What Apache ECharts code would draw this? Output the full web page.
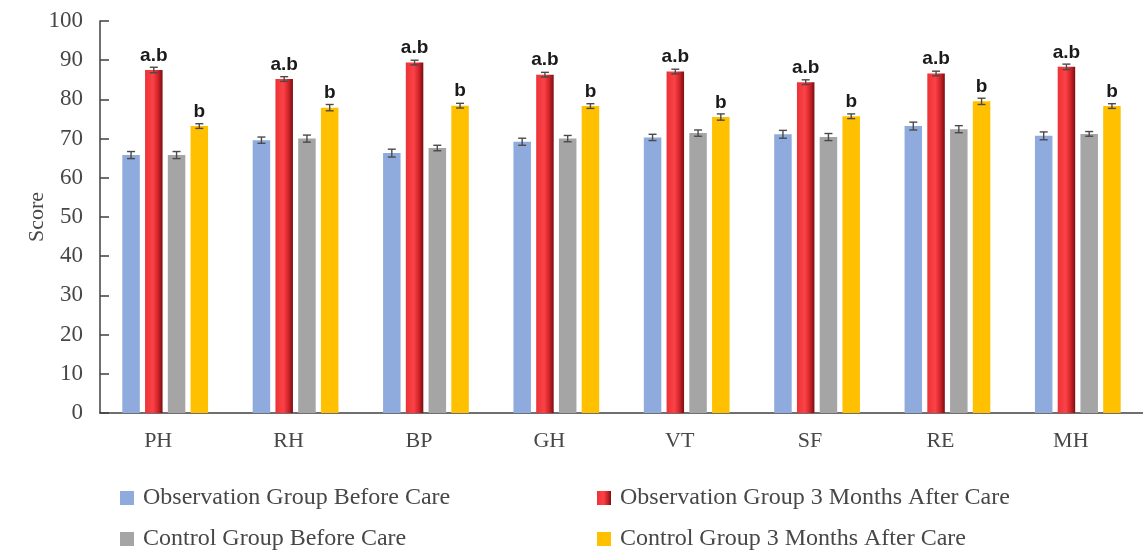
<!DOCTYPE html>
<html>
<head>
<meta charset="utf-8">
<script src="https://cdn.jsdelivr.net/npm/echarts@6/dist/echarts.min.js"></script>
<style>
  html, body { margin: 0; padding: 0; background: #ffffff; }
  #chart { width: 1143px; height: 550px; }
</style>
</head>
<body>
<div id="chart"></div>
<script>
// SF-36 dimension scores (mean ± error) per group
const categories = ['PH', 'RH', 'BP', 'GH', 'VT', 'SF', 'RE', 'MH'];

const seriesNames = [
  'Observation Group Before Care',
  'Observation Group 3 Months After Care',
  'Control Group Before Care',
  'Control Group 3 Months After Care'
];

const obsBefore  = [65.8, 69.6, 66.3, 69.2, 70.3, 71.1, 73.2, 70.7];
const obsAfter   = [87.5, 85.2, 89.4, 86.3, 87.1, 84.4, 86.6, 88.3];
const ctrlBefore = [65.8, 70.0, 67.6, 70.0, 71.4, 70.4, 72.4, 71.2];
const ctrlAfter  = [73.2, 77.9, 78.4, 78.3, 75.5, 75.7, 79.5, 78.3];

const obsBeforeErr  = [0.9, 0.8, 1.0, 0.9, 0.8, 1.0, 1.0, 1.0];
const obsAfterErr   = [0.7, 0.6, 0.6, 0.6, 0.6, 0.6, 0.6, 0.7];
const ctrlBeforeErr = [0.9, 0.9, 0.7, 0.8, 0.8, 0.9, 0.9, 0.6];
const ctrlAfterErr  = [0.6, 0.8, 0.6, 0.6, 0.8, 0.6, 0.8, 0.6];

// significance marks drawn above bars
const obsAfterMarks  = ['a.b', 'a.b', 'a.b', 'a.b', 'a.b', 'a.b', 'a.b', 'a.b'];
const ctrlAfterMarks = ['b', 'b', 'b', 'b', 'b', 'b', 'b', 'b'];

const yTicks = [0, 10, 20, 30, 40, 50, 60, 70, 80, 90, 100];

const values = [obsBefore, obsAfter, ctrlBefore, ctrlAfter];
const errors = [obsBeforeErr, obsAfterErr, ctrlBeforeErr, ctrlAfterErr];
const marks = [null, obsAfterMarks, null, ctrlAfterMarks];

const BAR_W = 17.5;
const GAP_PCT = 30;
const SERIF = '"Liberation Serif", "DejaVu Serif", serif';
const TEXT = '#474747';

const redGradient = new echarts.graphic.LinearGradient(0, 0, 1, 0, [
  { offset: 0, color: '#ec3237' },
  { offset: 0.45, color: '#fb4247' },
  { offset: 0.72, color: '#d6262b' },
  { offset: 1, color: '#7a0e11' }
]);
const colors = ['#8faadc', redGradient, '#a5a5a5', '#ffc000'];

// horizontal offset of each bar within its category group
const gapPx = BAR_W * GAP_PCT / 100;
const groupW = 4 * BAR_W + 3 * gapPx;
const offsets = [0, 1, 2, 3].map(i => -groupW / 2 + i * (BAR_W + gapPx) + BAR_W / 2);

const barSeries = seriesNames.map((name, s) => ({
  name: name,
  type: 'bar',
  barWidth: BAR_W,
  barGap: GAP_PCT + '%',
  itemStyle: { color: colors[s] },
  label: marks[s] ? {
    show: true,
    position: 'top',
    distance: 5,
    formatter: p => marks[s][p.dataIndex],
    fontFamily: '"Liberation Sans", Arial, sans-serif',
    fontWeight: 'bold',
    fontSize: 19,
    color: '#1a1a1a'
  } : { show: false },
  data: values[s]
}));

const errData = [];
values.forEach((arr, s) => {
  arr.forEach((v, i) => errData.push([i, v, errors[s][i], s]));
});

const errorSeries = {
  type: 'custom',
  name: 'errors',
  z: 5,
  silent: true,
  renderItem: (params, api) => {
    const idx = api.value(0);
    const v = api.value(1);
    const e = api.value(2);
    const s = api.value(3);
    const hi = api.coord([idx, v + e]);
    const lo = api.coord([idx, v - e]);
    const x = hi[0] + offsets[s];
    const cap = 4;
    const style = { stroke: '#4a4a4a', lineWidth: 1.4 };
    return {
      type: 'group',
      children: [
        { type: 'line', shape: { x1: x, y1: hi[1], x2: x, y2: lo[1] }, style },
        { type: 'line', shape: { x1: x - cap, y1: hi[1], x2: x + cap, y2: hi[1] }, style },
        { type: 'line', shape: { x1: x - cap, y1: lo[1], x2: x + cap, y2: lo[1] }, style }
      ]
    };
  },
  data: errData
};

// one legend entry per box, laid out as two columns of two rows
const legendSpots = [
  { left: 120, top: 486 },
  { left: 597, top: 486 },
  { left: 120, top: 527 },
  { left: 597, top: 527 }
];
const legends = seriesNames.map((name, s) => ({
  left: legendSpots[s].left,
  top: legendSpots[s].top,
  padding: 0,
  itemWidth: 14,
  itemHeight: 14,
  itemGap: 0,
  icon: 'rect',
  textStyle: { fontFamily: SERIF, fontSize: 24, color: TEXT, padding: [0, 0, 0, 4] },
  data: [name]
}));

const option = {
  animation: false,
  backgroundColor: '#ffffff',
  grid: { left: 100, right: 0, top: 21, bottom: 137 },
  legend: legends,
  xAxis: {
    type: 'category',
    data: categories,
    axisLine: { lineStyle: { color: '#404040', width: 1.5 } },
    axisTick: { show: false },
    axisLabel: {
      fontFamily: SERIF, fontSize: 22, color: TEXT, margin: 17,
      padding: [0, 14, 0, 0]
    }
  },
  yAxis: {
    type: 'value',
    min: yTicks[0],
    max: yTicks[yTicks.length - 1],
    interval: yTicks[1] - yTicks[0],
    name: 'Score',
    nameLocation: 'middle',
    nameGap: 52,
    nameRotate: 90,
    nameMoveOverlap: false,
    nameTextStyle: { fontFamily: SERIF, fontSize: 22, color: TEXT },
    axisLine: { show: true, lineStyle: { color: '#404040', width: 1.5 } },
    axisTick: { show: true, inside: true, length: 9, lineStyle: { color: '#404040', width: 1.5 } },
    splitLine: { show: false },
    axisLabel: { fontFamily: SERIF, fontSize: 23, color: TEXT, margin: 17 }
  },
  series: barSeries.concat([errorSeries])
};

const chart = echarts.init(document.getElementById('chart'), null, { renderer: 'canvas' });
chart.setOption(option);
</script>
</body>
</html>
